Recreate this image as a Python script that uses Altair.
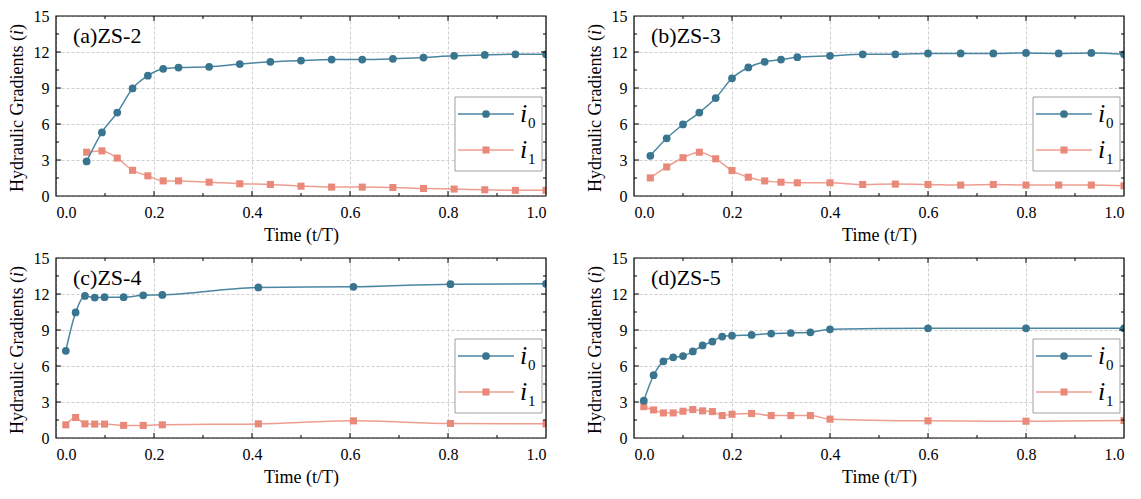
import altair as alt
import pandas as pd

# ---------------- data ----------------
t_a = [0.0625, 0.09375, 0.125, 0.15625, 0.1875, 0.21875, 0.25, 0.3125, 0.375, 0.4375,
       0.5, 0.5625, 0.625, 0.6875, 0.75, 0.8125, 0.875, 0.9375, 1.0]
i0_a = [2.88, 5.30, 6.95, 8.96, 10.03, 10.60, 10.70, 10.77, 10.99, 11.18,
        11.29, 11.37, 11.37, 11.43, 11.54, 11.68, 11.76, 11.81, 11.81]
i1_a = [3.65, 3.76, 3.16, 2.14, 1.68, 1.26, 1.26, 1.15, 1.02, 0.96,
        0.82, 0.74, 0.74, 0.71, 0.63, 0.58, 0.52, 0.47, 0.47]

t_b = [0.0333, 0.0667, 0.1, 0.1333, 0.1667, 0.2, 0.2333, 0.2667, 0.3, 0.3333,
       0.4, 0.4667, 0.5333, 0.6, 0.6667, 0.7333, 0.8, 0.8667, 0.9333, 1.0]
i0_b = [3.35, 4.81, 5.96, 6.95, 8.16, 9.81, 10.71, 11.18, 11.37, 11.57,
        11.68, 11.81, 11.81, 11.88, 11.88, 11.88, 11.92, 11.88, 11.92, 11.81]
i1_b = [1.51, 2.42, 3.19, 3.65, 3.10, 2.12, 1.57, 1.26, 1.15, 1.10,
        1.10, 0.96, 0.99, 0.96, 0.91, 0.96, 0.91, 0.91, 0.91, 0.85]

t_c = [0.020, 0.040, 0.059, 0.079, 0.099, 0.138, 0.178, 0.217, 0.413, 0.607, 0.805, 1.0]
i0_c = [7.27, 10.46, 11.84, 11.70, 11.73, 11.73, 11.89, 11.92, 12.55, 12.60, 12.82, 12.85]
i1_c = [1.10, 1.71, 1.18, 1.16, 1.16, 1.05, 1.05, 1.10, 1.18, 1.43, 1.21, 1.18]

t_d = [0.02, 0.04, 0.06, 0.08, 0.10, 0.12, 0.14, 0.16, 0.18, 0.20,
       0.24, 0.28, 0.32, 0.36, 0.40, 0.60, 0.80, 1.0]
i0_d = [3.11, 5.23, 6.39, 6.72, 6.83, 7.21, 7.71, 8.04, 8.45, 8.53,
        8.59, 8.70, 8.75, 8.81, 9.06, 9.14, 9.14, 9.14]
i1_d = [2.61, 2.34, 2.09, 2.09, 2.23, 2.37, 2.26, 2.20, 1.87, 1.98,
        2.04, 1.87, 1.87, 1.87, 1.57, 1.43, 1.40, 1.46]

labels = ["(a)ZS-2", "(b)ZS-3", "(c)ZS-4", "(d)ZS-5"]

x_ticks = [0.0, 0.2, 0.4, 0.6, 0.8, 1.0]
y_ticks = [0, 3, 6, 9, 12, 15]
x_major_in = [0.2, 0.4, 0.6, 0.8]
x_minor_in = [0.1, 0.3, 0.5, 0.7, 0.9]
y_major_in = [3, 6, 9, 12]
y_minor_in = [1.5, 4.5, 7.5, 10.5, 13.5]

# ---------------- style ----------------
W, H = 490, 180
FONT = "Liberation Serif"
C0_LINE, C0_PT = "#4A86A2", "#3A7590"
C1_LINE, C1_PT = "#EE9E90", "#E8897A"

xscale = alt.Scale(domain=[0, 1], nice=False, zero=False)
yscale = alt.Scale(domain=[0, 15], nice=False)
xaxis = alt.Axis(values=x_ticks, format=".1f", title="Time (t/T)", grid=True,
                 gridDash=[3, 2], gridColor="#cfcfcf", ticks=False, domain=False,
                 labelPadding=8, titlePadding=6, labelFont=FONT, labelFontSize=16,
                 labelColor="black", titleFont=FONT, titleFontSize=18,
                 titleFontWeight="normal", titleColor="black")
yaxis = alt.Axis(values=y_ticks, title=None, grid=True, gridDash=[3, 2],
                 gridColor="#cfcfcf", ticks=False, domain=False, labelPadding=7,
                 labelFont=FONT, labelFontSize=16, labelColor="black")


def X(f):
    return alt.X(f, type="quantitative", scale=xscale, axis=xaxis)


def Y(f):
    return alt.Y(f, type="quantitative", scale=yscale, axis=yaxis)


one = pd.DataFrame({"k": [0]})


def panel(t, i0, i1, label):
    df = pd.DataFrame({"t": t, "i0": i0, "i1": i1})
    l1 = alt.Chart(df).mark_line(color=C1_LINE, strokeWidth=1.5, interpolate="monotone",
                                 clip=True).encode(x=X("t"), y=Y("i1"))
    p1 = alt.Chart(df).mark_point(shape="square", filled=True, size=50, opacity=1,
                                  color=C1_PT, clip=True).encode(x=X("t"), y=Y("i1"))
    l0 = alt.Chart(df).mark_line(color=C0_LINE, strokeWidth=1.5, interpolate="monotone",
                                 clip=True).encode(x=X("t"), y=Y("i0"))
    p0 = alt.Chart(df).mark_point(shape="circle", filled=True, size=60, opacity=1,
                                  color=C0_PT, clip=True).encode(x=X("t"), y=Y("i0"))

    # inward ticks on all four sides
    xmaj = pd.DataFrame({"xt": x_major_in})
    xmin = pd.DataFrame({"xt": x_minor_in})
    ymaj = pd.DataFrame({"yt": y_major_in})
    ymin = pd.DataFrame({"yt": y_minor_in})
    tk = []
    for d, L in ((xmaj, 5), (xmin, 3)):
        tk.append(alt.Chart(d).mark_rule(color="black", strokeWidth=1).encode(
            x=X("xt"), y=alt.value(H), y2=alt.value(H - L)))
        tk.append(alt.Chart(d).mark_rule(color="black", strokeWidth=1).encode(
            x=X("xt"), y=alt.value(0), y2=alt.value(L)))
    for d, L in ((ymaj, 5), (ymin, 3)):
        tk.append(alt.Chart(d).mark_rule(color="black", strokeWidth=1).encode(
            y=Y("yt"), x=alt.value(0), x2=alt.value(L)))
        tk.append(alt.Chart(d).mark_rule(color="black", strokeWidth=1).encode(
            y=Y("yt"), x=alt.value(W), x2=alt.value(W - L)))

    # frame on top of the dashed grid
    frame = alt.Chart(one).mark_rect(fill=None, stroke="black", strokeWidth=1.2).encode(
        x=alt.value(0), x2=alt.value(W), y=alt.value(0), y2=alt.value(H))

    # panel label
    lab = alt.Chart(one).mark_text(font=FONT, fontSize=22, align="left",
                                   baseline="alphabetic", color="black").encode(
        x=alt.value(17), y=alt.value(27), text=alt.value(label))

    # y title with italic i
    yt_main = alt.Chart(one).mark_text(font=FONT, fontSize=18, angle=270, align="left",
                                       baseline="middle", color="black").encode(
        x=alt.value(-38), y=alt.value(176), text=alt.value("Hydraulic Gradients ("))
    yt_i = alt.Chart(one).mark_text(font=FONT, fontSize=18, fontStyle="italic", angle=270,
                                    align="left", baseline="middle", color="black").encode(
        x=alt.value(-38), y=alt.value(19.0), text=alt.value("i"))
    yt_end = alt.Chart(one).mark_text(font=FONT, fontSize=18, angle=270, align="left",
                                      baseline="middle", color="black").encode(
        x=alt.value(-38), y=alt.value(14.0), text=alt.value(")"))

    # legend
    box = alt.Chart(one).mark_rect(fill="white", stroke="#a0a0a0", strokeWidth=1).encode(
        x=alt.value(399), x2=alt.value(486), y=alt.value(81), y2=alt.value(155))
    lg = [box]
    for yy, cl, cp, shp, sz, sub in ((98, C0_LINE, C0_PT, "circle", 60, "0"),
                                     (134, C1_LINE, C1_PT, "square", 50, "1")):
        lg.append(alt.Chart(one).mark_rule(color=cl, strokeWidth=1.5).encode(
            x=alt.value(402), x2=alt.value(458), y=alt.value(yy)))
        lg.append(alt.Chart(one).mark_point(shape=shp, filled=True, size=sz, opacity=1,
                                            color=cp).encode(x=alt.value(430), y=alt.value(yy)))
        lg.append(alt.Chart(one).mark_text(font=FONT, fontSize=26, fontStyle="italic",
                                           align="left", baseline="alphabetic",
                                           color="black").encode(
            x=alt.value(464), y=alt.value(yy + 8), text=alt.value("i")))
        lg.append(alt.Chart(one).mark_text(font=FONT, fontSize=15, align="left",
                                           baseline="alphabetic", color="black").encode(
            x=alt.value(472), y=alt.value(yy + 14), text=alt.value(sub)))

    return alt.layer(l1, p1, l0, p0, *tk, frame, lab, yt_main, yt_i, yt_end, *lg).properties(
        width=W, height=H)


pa = panel(t_a, i0_a, i1_a, labels[0])
pb = panel(t_b, i0_b, i1_b, labels[1])
pc = panel(t_c, i0_c, i1_c, labels[2])
pd_ = panel(t_d, i0_d, i1_d, labels[3])

chart = alt.concat(pa, pb, pc, pd_, columns=2, spacing={"row": 62, "column": 88},
                   bounds="flush").properties(
    padding={"left": 0, "top": 0, "right": 5, "bottom": 5}
).configure_view(stroke=None).configure_axis(
    labelFont=FONT, labelFontSize=16, labelColor="black",
    titleFont=FONT, titleFontSize=18, titleFontWeight="normal", titleColor="black"
)

chart.save("out.html", embed_options={"renderer": "svg", "actions": False})
